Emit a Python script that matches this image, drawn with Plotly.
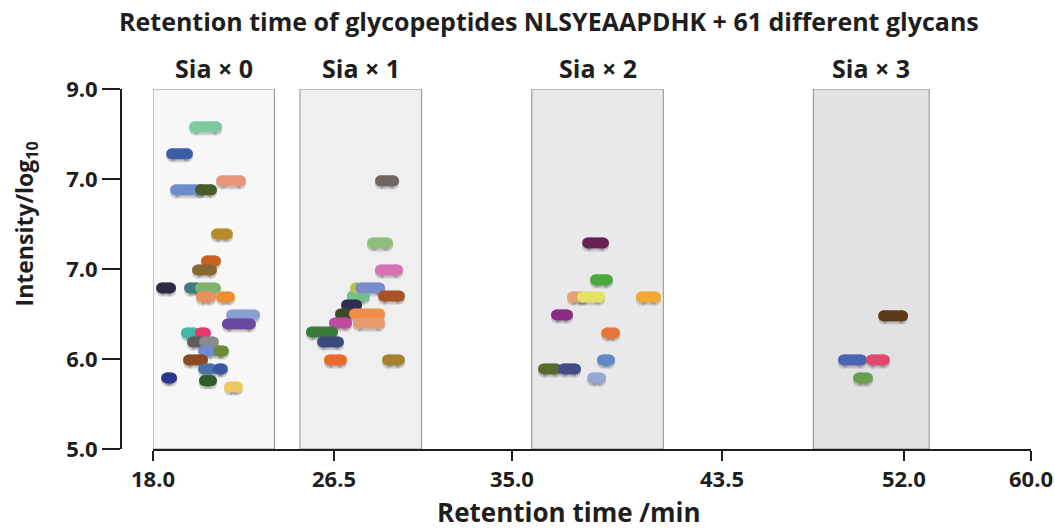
import plotly.graph_objects as go

# ---- data: retention window (start/end, min) and log10 intensity per glycopeptide ----
sia0_start = [19.99, 18.89, 19.08, 20.27, 21.28, 21.04, 20.56, 20.13, 18.41, 19.75,
              20.27, 20.32, 21.28, 21.76, 21.56, 19.60, 20.27, 19.89, 20.46, 20.42,
              21.13, 19.70, 20.42, 21.13, 18.65, 20.46, 21.66]
sia0_end = [21.04, 19.65, 20.22, 20.80, 22.19, 21.56, 20.99, 20.80, 18.84, 20.13,
            20.99, 20.75, 21.66, 22.86, 22.66, 19.99, 20.51, 20.32, 20.89, 20.80,
            21.37, 20.37, 20.80, 21.32, 18.89, 20.80, 22.04]
sia0_intensity = [8.58, 8.28, 7.88, 7.88, 7.98, 7.39, 7.09, 6.99, 6.79, 6.79,
                  6.79, 6.69, 6.69, 6.49, 6.39, 6.29, 6.29, 6.19, 6.19, 6.09,
                  6.09, 5.99, 5.89, 5.89, 5.79, 5.76, 5.69]

sia1_start = [28.88, 28.50, 28.88, 27.54, 27.69, 27.93, 29.03, 27.26, 26.97, 27.64,
              26.68, 27.83, 25.58, 26.11, 26.44, 29.22]
sia1_end = [29.51, 29.22, 29.70, 28.12, 27.78, 28.84, 29.79, 27.74, 27.31, 28.84,
            27.26, 28.84, 26.59, 26.87, 27.02, 29.79]
sia1_intensity = [7.98, 7.29, 6.99, 6.70, 6.79, 6.79, 6.70, 6.60, 6.50, 6.50,
                  6.40, 6.40, 6.30, 6.19, 5.99, 5.99]

sia2_start = [38.79, 39.17, 38.07, 38.55, 41.37, 37.30, 39.70, 39.50, 36.68, 37.64, 39.03]
sia2_end = [39.55, 39.74, 38.50, 39.36, 42.04, 37.83, 40.08, 39.84, 37.30, 38.21, 39.41]
sia2_intensity = [7.29, 6.88, 6.69, 6.69, 6.69, 6.49, 6.29, 5.99, 5.89, 5.89, 5.79]

sia3_start = [52.95, 51.03, 52.37, 51.75]
sia3_end = [53.86, 51.89, 52.99, 52.18]
sia3_intensity = [6.48, 5.99, 5.99, 5.79]

# sialic-acid windows (min) and their labels
group_labels = ["Sia × 0", "Sia × 1", "Sia × 2", "Sia × 3"]
window_start = [18.0, 25.03, 36.12, 49.59]
window_end = [23.81, 30.85, 42.41, 55.13]

# axis ticks
x_tick_pos = [18.0, 26.66, 35.17, 45.22, 53.92, 60.0]
x_tick_text = ["18.0", "26.5", "35.0", "43.5", "52.0", "60.0"]
y_tick_pos = [5, 6, 7, 8, 9]
y_tick_text = ["5.0", "6.0", "7.0", "7.0", "9.0"]

# ---- styles ----
sia0_colors = ["#7ccaa0", "#3c5ea8", "#6f8ccc", "#475c28", "#e8967a", "#b88a2c",
               "#cc6022", "#86692e", "#2c2a44", "#3e7c7c", "#80b46c", "#e8915c",
               "#ee8e2e", "#8aa0d2", "#6a48a0", "#44b6a6", "#e63868", "#5e5e5e",
               "#8a8a8a", "#6e8cce", "#6a8c3a", "#8a4a26", "#4a70aa", "#3c56a0",
               "#2c3690", "#2e5c2c", "#f0c860"]
sia1_colors = ["#6e6662", "#8cc07a", "#d870b4", "#72c08c", "#b4c84c", "#7a8ccc",
               "#a85428", "#2e2e52", "#3c4a2a", "#f08e48", "#c04aa2", "#e89a6c",
               "#3a7a3a", "#3a4a7a", "#ea6a2c", "#a88030"]
sia2_colors = ["#6a2052", "#4caa3c", "#e8a070", "#e2e264", "#f0a830", "#8a2a82",
               "#e8763a", "#6088c2", "#5a6a30", "#404c8a", "#94a8d4"]
sia3_colors = ["#5c3a18", "#4a66b2", "#e04a6c", "#6aa04c"]
window_fill = ["#f7f7f7", "#efefef", "#e9e9eb", "#e2e2e4"]

FONT = "Open Sans"
INK = "#1e1e1e"
BAR_W = 11
SHADOW_DY = 0.035

groups = [
    (sia0_start, sia0_end, sia0_intensity, sia0_colors),
    (sia1_start, sia1_end, sia1_intensity, sia1_colors),
    (sia2_start, sia2_end, sia2_intensity, sia2_colors),
    (sia3_start, sia3_end, sia3_intensity, sia3_colors),
]

fig = go.Figure()

# soft drop shadows under every capsule
for starts, ends, vals, cols in groups:
    for s, e, v in zip(starts, ends, vals):
        for dy, alpha in ((SHADOW_DY, 0.16), (SHADOW_DY * 0.6, 0.12)):
            fig.add_trace(go.Scatter(
                x=[s, e], y=[v - dy, v - dy], mode="lines+markers",
                line=dict(color=f"rgba(60,60,60,{alpha})", width=BAR_W),
                marker=dict(color=f"rgba(60,60,60,{alpha})", size=BAR_W, line=dict(width=0)),
                hoverinfo="skip", showlegend=False))

# capsules: one per glycan, rounded ends via end markers
for starts, ends, vals, cols in groups:
    for s, e, v, c in zip(starts, ends, vals, cols):
        fig.add_trace(go.Scatter(
            x=[s, e], y=[v, v], mode="lines+markers",
            line=dict(color=c, width=BAR_W),
            marker=dict(color=c, size=BAR_W, line=dict(width=0)),
            hovertemplate="%{x:.2f} min<br>log10 I = %{y:.2f}<extra></extra>",
            showlegend=False))

# shaded sialic-acid windows with labels above
shapes = []
annotations = []
for x0, x1, fill, lab in zip(window_start, window_end, window_fill, group_labels):
    shapes.append(dict(type="rect", xref="x", yref="y", x0=x0, x1=x1, y0=5, y1=9,
                       fillcolor=fill, line=dict(color="#8f8f8f", width=1), layer="below"))
    annotations.append(dict(x=(x0 + x1) / 2, y=9, xref="x", yref="y", text=lab,
                            showarrow=False, yanchor="bottom", yshift=2,
                            font=dict(family=FONT, size=25, color=INK, weight="bold")))

annotations += [
    dict(x=0.470, y=1.19, xref="paper", yref="paper", showarrow=False,
         text="Retention time of glycopeptides NLSYEAAPDHK + 61 different glycans",
         yanchor="middle", font=dict(family=FONT, size=25, color=INK, weight="bold")),
    dict(x=0.492, y=-0.175, xref="paper", yref="paper", showarrow=False,
         text="Retention time /min", yanchor="middle",
         font=dict(family=FONT, size=26, color=INK, weight="bold")),
    dict(x=-0.105, y=0.625, xref="paper", yref="paper", showarrow=False,
         text="Intensity/log<sub>10</sub>", textangle=-90, xanchor="center", yanchor="middle",
         font=dict(family=FONT, size=23, color=INK, weight="bold")),
]

fig.update_layout(
    width=1055, height=531,
    margin=dict(l=121, r=24, t=89, b=82, autoexpand=False),
    paper_bgcolor="white", plot_bgcolor="white",
    shapes=shapes, annotations=annotations,
    showlegend=False,
    xaxis=dict(domain=[32 / 910, 1], range=[18, 60], tickvals=x_tick_pos, ticktext=x_tick_text,
               showline=True, linecolor=INK, linewidth=2, ticks="outside", ticklen=10,
               tickwidth=2, tickcolor=INK, showgrid=False, zeroline=False, automargin=False,
               ticklabeloverflow="allow",
               tickfont=dict(family=FONT, size=22, color=INK, weight="bold")),
    yaxis=dict(anchor="free", position=0, range=[5, 9], tickvals=y_tick_pos,
               ticktext=y_tick_text, showline=True, linecolor=INK, linewidth=2,
               ticks="outside", ticklen=18, tickwidth=2, tickcolor=INK,
               showgrid=False, zeroline=False, automargin=False,
               ticklabeloverflow="allow",
               tickfont=dict(family=FONT, size=22, color=INK, weight="bold")),
)

fig.write_html("out.html")
